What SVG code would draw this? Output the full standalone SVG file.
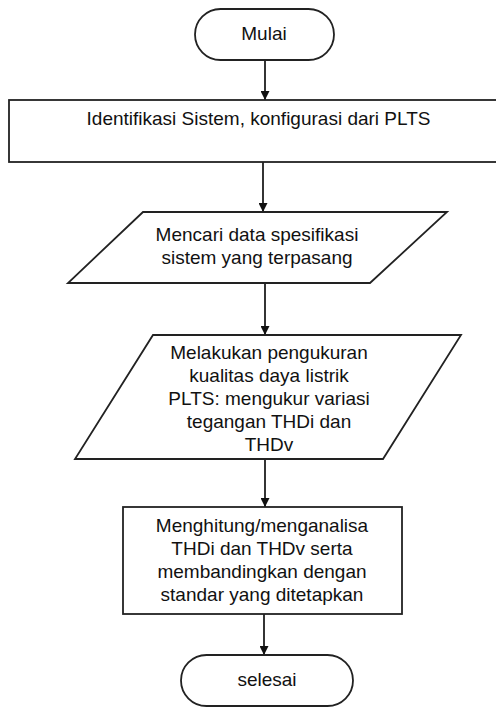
<svg xmlns="http://www.w3.org/2000/svg" width="496" height="708" viewBox="0 0 496 708">
<style>
.shape{fill:#fff;stroke:#222;stroke-width:1.8}
.conn{stroke:#111;stroke-width:1.7;fill:none}
text{font-family:"Liberation Sans",Arial,sans-serif;font-size:19px;fill:#111;text-anchor:middle}
</style>
<defs>
<marker id="arr" markerUnits="userSpaceOnUse" viewBox="0 0 10 10" refX="10" refY="5" markerWidth="11" markerHeight="9" orient="auto">
<path d="M0,0 L10,5 L0,10 z" fill="#111"/>
</marker>
</defs>
<rect width="496" height="708" fill="#fff"/>
<g id="connectors">
<line class="conn" x1="265" y1="60" x2="265" y2="100" marker-end="url(#arr)"/>
<line class="conn" x1="263" y1="162" x2="263" y2="212" marker-end="url(#arr)"/>
<line class="conn" x1="265" y1="283" x2="265" y2="335" marker-end="url(#arr)"/>
<line class="conn" x1="265" y1="459" x2="265" y2="507" marker-end="url(#arr)"/>
<line class="conn" x1="264" y1="614" x2="264" y2="655" marker-end="url(#arr)"/>
</g>
<g id="start">
<rect class="shape" x="195" y="9" width="139" height="51" rx="25.5"/>
<text x="264" y="40">Mulai</text>
</g>
<g id="identifikasi">
<rect class="shape" x="9" y="100" width="488" height="62"/>
<text x="258.5" y="125">Identifikasi Sistem, konfigurasi dari PLTS</text>
</g>
<g id="mencari">
<polygon class="shape" points="143,212 447,212 370,283 68,283"/>
<text x="257" y="241">Mencari data spesifikasi</text>
<text x="257" y="264">sistem yang terpasang</text>
</g>
<g id="pengukuran">
<polygon class="shape" points="153,335 461,335 383,459 75,459"/>
<text x="269" y="359">Melakukan pengukuran</text>
<text x="269" y="382">kualitas daya listrik</text>
<text x="269" y="405">PLTS: mengukur variasi</text>
<text x="269" y="428">tegangan THDi dan</text>
<text x="269" y="451">THDv</text>
</g>
<g id="analisa">
<rect class="shape" x="123" y="507" width="279" height="107"/>
<text x="262" y="532">Menghitung/menganalisa</text>
<text x="262" y="555">THDi dan THDv serta</text>
<text x="262" y="578">membandingkan dengan</text>
<text x="262" y="601">standar yang ditetapkan</text>
</g>
<g id="end">
<rect class="shape" x="181" y="655" width="172" height="51" rx="25.5"/>
<text x="267" y="686">selesai</text>
</g>
</svg>
